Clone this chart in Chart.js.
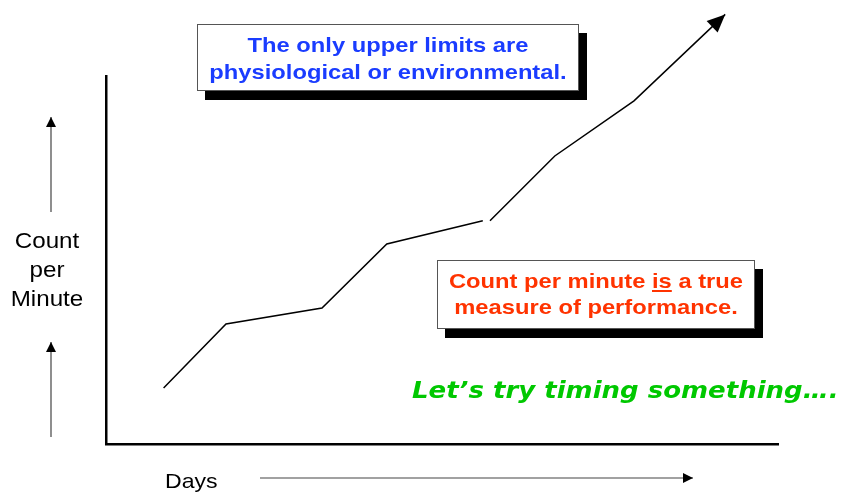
<!DOCTYPE html>
<html>
<head>
<meta charset="utf-8">
<script src="https://cdn.jsdelivr.net/npm/chart.js@4"></script>
<style>
  html, body { margin: 0; padding: 0; background: #fff; }
  #wrap { position: relative; width: 845px; height: 495px; }
  #chart { position: absolute; left: 0; top: 0; }
  .box {
    position: absolute; background: #fff; border: 1px solid #555;
    box-shadow: 8px 9px 0 #000; text-align: center; box-sizing: border-box;
    font-family: "Liberation Sans", Arial, sans-serif; font-weight: bold;
    font-size: 21px; white-space: nowrap;
  }
  .wide { display: block; transform: scaleX(1.13); transform-origin: 50% 50%; }
  .lbl { position: absolute; font-family: "Liberation Sans", Arial, sans-serif; color: #000; white-space: nowrap; }
</style>
</head>
<body>
<div id="wrap">
  <canvas id="chart" width="845" height="495"></canvas>
  <div class="box" style="left:197px;top:24px;width:382px;height:67px;color:#1a3cff;padding-top:6px;line-height:27px;">
    <span class="wide">The only upper limits are<br>physiological or environmental.</span></div>
  <div class="box" style="left:437px;top:260px;width:318px;height:69px;color:#ff3300;padding-top:7px;line-height:26px;">
    <span class="wide">Count per minute <u>is</u> a true<br>measure of performance.</span></div>
  <div class="lbl" style="left:412px;top:377px;line-height:27px;font-family:'DejaVu Sans',Verdana,sans-serif;font-weight:bold;font-style:italic;font-size:23px;color:#00c800;transform:scaleX(1.13);transform-origin:0 50%;">Let’s try timing something….</div>
  <div class="lbl" style="left:0;top:226px;width:94px;text-align:center;font-size:22px;line-height:29px;transform:scaleX(1.1);transform-origin:50% 50%;">Count<br>per<br>Minute</div>
  <div class="lbl" style="left:165px;top:469px;font-size:21px;line-height:23px;transform:scaleX(1.1);transform-origin:0 50%;">Days</div>
</div>
<script>
// made-up progress curve
const days = [2.4, 5, 9, 11.7, 15.7, 15.85, 16, 18.7, 22, 25.8];
const counts = [7, 15, 17, 25, 27.9, null, 27.9, 36, 42.9, 53.7];

// little arrows drawn next to the axis labels (pixel positions)
const guideArrows = [
  [51, 212, 51, 117],
  [51, 437, 51, 342],
  [260, 478, 693, 478]
];

function arrowHead(ctx, x0, y0, x1, y1, len, half) {
  const a = Math.atan2(y1 - y0, x1 - x0);
  ctx.beginPath();
  ctx.moveTo(x1, y1);
  ctx.lineTo(x1 - len * Math.cos(a) + half * Math.sin(a), y1 - len * Math.sin(a) - half * Math.cos(a));
  ctx.lineTo(x1 - len * Math.cos(a) - half * Math.sin(a), y1 - len * Math.sin(a) + half * Math.cos(a));
  ctx.closePath();
  ctx.fill();
}

const extras = {
  id: 'extras',
  afterDatasetsDraw(chart) {
    const ctx = chart.ctx;
    const xs = chart.scales.x, ys = chart.scales.y;
    const n = days.length;
    ctx.save();
    ctx.fillStyle = '#000';
    arrowHead(ctx, xs.getPixelForValue(days[n - 2]), ys.getPixelForValue(counts[n - 2]),
      xs.getPixelForValue(days[n - 1]), ys.getPixelForValue(counts[n - 1]), 18, 8);
    ctx.strokeStyle = '#444';
    ctx.lineWidth = 1.2;
    guideArrows.forEach(([x0, y0, x1, y1]) => {
      ctx.beginPath();
      ctx.moveTo(x0, y0);
      ctx.lineTo(x1, y1);
      ctx.stroke();
      arrowHead(ctx, x0, y0, x1, y1, 10, 5);
    });
    ctx.restore();
  }
};

new Chart(document.getElementById('chart'), {
  type: 'line',
  data: {
    datasets: [{
      data: days.map((d, i) => ({ x: d, y: counts[i] })),
      borderColor: '#000',
      borderWidth: 1.5,
      pointRadius: 0,
      tension: 0,
      spanGaps: false,
      clip: false
    }]
  },
  options: {
    responsive: false,
    animation: false,
    layout: { padding: { left: 106, right: 67, top: 76, bottom: 51 } },
    plugins: { legend: { display: false }, tooltip: { enabled: false } },
    scales: {
      x: {
        type: 'linear', min: 0, max: 28,
        grid: { display: false },
        ticks: { display: false },
        border: { display: true, color: '#000', width: 2.5 },
        afterFit(s) { s.height = 0; }
      },
      y: {
        min: 0, max: 46,
        grid: { display: false },
        ticks: { display: false },
        border: { display: true, color: '#000', width: 2.5 },
        afterFit(s) { s.width = 0; }
      }
    }
  },
  plugins: [extras]
});
</script>
</body>
</html>
